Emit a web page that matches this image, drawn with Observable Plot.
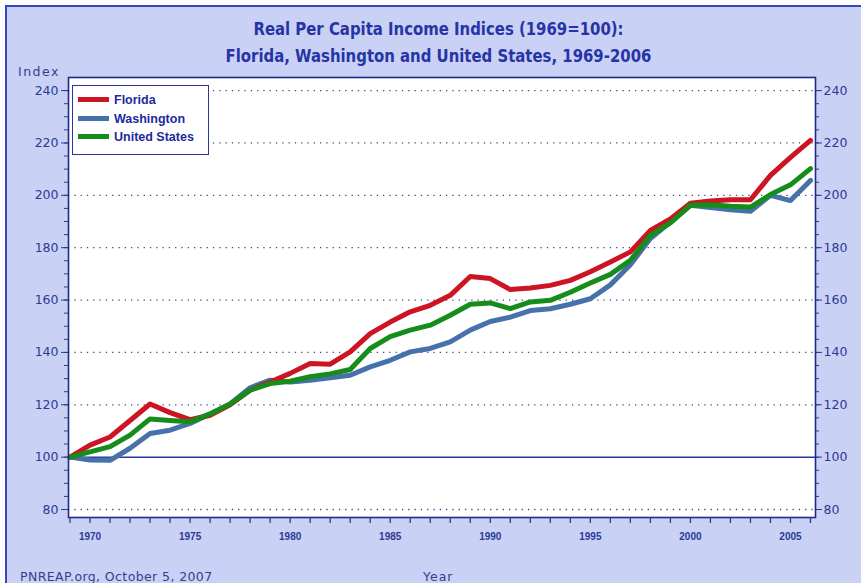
<!DOCTYPE html>
<html><head><meta charset="utf-8">
<script src="https://cdn.jsdelivr.net/npm/d3@7"></script>
<script src="https://cdn.jsdelivr.net/npm/@observablehq/plot@0.6"></script>
<style>
body{margin:0;background:#fff;}
#wrap{position:relative;width:861px;height:583px;overflow:hidden;}
#panel{position:absolute;left:5px;top:5px;width:900px;height:620px;background:#c9d1f5;border:2px solid #3846c4;box-sizing:border-box;}
#chart{position:absolute;left:0;top:0;}
.title{position:absolute;left:8px;width:861px;text-align:center;font-family:"Liberation Sans Narrow","DejaVu Sans Condensed",sans-serif;font-weight:bold;font-size:18px;color:#2634a6;line-height:20px;transform:scaleX(0.92);transform-origin:50% 0;}
.lab{position:absolute;font-family:"DejaVu Sans",Verdana,sans-serif;font-size:12.5px;color:#34408e;line-height:14px;letter-spacing:0.4px;white-space:nowrap;}
#legend{position:absolute;left:72px;top:85px;width:137px;height:70px;background:#fff;border:1.5px solid #2a3690;box-sizing:border-box;}
.li{position:absolute;left:5px;height:16px;font-family:"Liberation Sans","DejaVu Sans",sans-serif;font-weight:bold;font-size:12.5px;color:#1c2a9c;white-space:nowrap;line-height:16px;}
.sw{display:inline-block;width:31px;height:5px;vertical-align:middle;margin-right:5px;position:relative;top:-1px;}
</style>
</head><body>
<div id="wrap">
  <div id="panel"></div>
  <div class="title" style="top:19px">Real Per Capita Income Indices (1969=100):</div>
  <div class="title" style="top:46px">Florida, Washington and United States, 1969-2006</div>
  <div class="lab" style="left:18px;top:65px;letter-spacing:1.5px">Index</div>
  <div id="chart"></div>
  <div id="legend"></div>
  <div class="lab" style="left:20px;top:570px">PNREAP.org, October 5, 2007</div>
  <div class="lab" style="left:423px;top:570px;letter-spacing:1px">Year</div>
</div>
<script>
const years = d3.range(1969, 2007);
const florida = [100,104.6,107.7,114,120.3,117,114.3,116,120,125.6,128.7,132,135.8,135.5,140.2,147.2,151.6,155.5,158,161.8,169,168.2,164,164.6,165.6,167.5,170.8,174.5,178.4,186.6,191,197,197.8,198.3,198.3,207.6,214.5,221];
const washington = [100,98.9,98.8,103.4,109,110.3,112.9,116.5,120.3,126.5,129.4,128.7,129.4,130.3,131.3,134.5,137,140.2,141.5,144,148.5,151.8,153.5,156,156.7,158.4,160.5,165.8,173.5,183.5,189.8,196.2,195.3,194.5,193.9,200,198,205.7];
const unitedStates = [100,102,104,108.4,114.6,114,113.5,116.5,120.3,125.6,128.1,129,130.7,131.8,133.5,141.5,146,148.5,150.4,154.2,158.4,158.9,156.7,159.3,159.9,163,166.5,169.8,175.2,184.7,189.5,196.2,196.4,195.8,195.5,200.3,204,210.2];
const seriesNames = ["Florida","Washington","United States"];
const seriesColors = ["#cc1422","#4671aa","#168c1a"];
const yMajor = [80,100,120,140,160,180,200,220,240];
const yMinor = d3.range(80, 241, 5);
const gridValues = [80,120,140,160,180,200,220,240];
const xLabelYears = [1970,1975,1980,1985,1990,1995,2000,2005];

const rows = [];
const drawOrder = [["Washington", washington], ["Florida", florida], ["United States", unitedStates]];
for (const [name, vals] of drawOrder) vals.forEach((v, i) => rows.push({series: name, year: years[i], value: v}));

const axisColor = "#2c3a94";
const chart = Plot.plot({
  width: 861, height: 583,
  marginLeft: 68, marginRight: 46, marginTop: 77, marginBottom: 66,
  style: {background: "transparent", overflow: "visible"},
  x: {domain: [1968.925, 2006.25]},
  y: {domain: [76.95, 245]},
  color: {domain: seriesNames, range: seriesColors},
  marks: [
    Plot.frame({fill: "white", stroke: "none"}),
    Plot.ruleY(gridValues, {stroke: "#3a4a8a", strokeWidth: 1.3, strokeDasharray: "1.3,5"}),
    Plot.ruleY([100], {stroke: "#2a3a9a", strokeWidth: 1.5}),
    Plot.line(rows, {x: "year", y: "value", z: "series", stroke: "series", strokeWidth: 5, strokeLinejoin: "round", strokeLinecap: "round"}),
    Plot.frame({stroke: "#1f2b86", strokeWidth: 1.6}),
    Plot.axisY({anchor: "left", ticks: yMajor, tickSize: 7, tickPadding: 3, color: axisColor, fontSize: 12.5, fontFamily: "DejaVu Sans, Verdana, sans-serif", tickFormat: d => String(d), label: null}),
    Plot.axisY({anchor: "left", ticks: yMinor, tickSize: 4, text: null, color: axisColor, label: null}),
    Plot.axisY({anchor: "right", ticks: yMajor, tickSize: 6, tickPadding: 2, color: axisColor, fontSize: 12.5, fontFamily: "DejaVu Sans, Verdana, sans-serif", tickFormat: d => String(d), label: null}),
    Plot.axisY({anchor: "right", ticks: yMinor, tickSize: 3, text: null, color: axisColor, label: null}),
    Plot.axisX({ticks: years, tickSize: 6, text: null, color: axisColor, strokeWidth: 1.3, label: null}),
    Plot.axisX({ticks: xLabelYears, tickSize: 0, tickPadding: 15, color: axisColor, fontSize: 10, fontWeight: "bold", fontFamily: "Liberation Sans, Arial, sans-serif", tickFormat: d => String(d), label: null})
  ]
});
document.getElementById("chart").appendChild(chart);

const legend = document.getElementById("legend");
seriesNames.forEach((name, i) => {
  const item = document.createElement("div");
  item.className = "li";
  item.style.top = (6 + i * 18.5) + "px";
  item.innerHTML = `<span class="sw" style="background:${seriesColors[i]}"></span>${name}`;
  legend.appendChild(item);
});
</script>
</body></html>
